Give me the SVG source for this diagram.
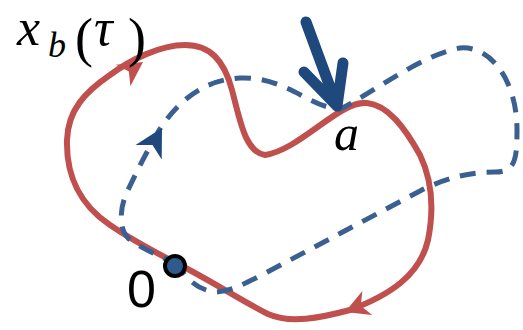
<svg xmlns="http://www.w3.org/2000/svg" width="523" height="330" viewBox="0 0 523 330">
<style>
.red{fill:none;stroke:#c0504d;stroke-width:6;stroke-linejoin:round}
.blue{fill:none;stroke:#3a6091;stroke-width:5;stroke-dasharray:16 11}
.big{fill:none;stroke:#1f497d;stroke-width:11;stroke-linecap:round;stroke-linejoin:round}
.math{font-family:"Liberation Serif","DejaVu Serif",serif;font-style:italic;fill:#000}
.up{font-family:"Liberation Serif","DejaVu Serif",serif;fill:#000}
.num{font-family:"Liberation Sans",Arial,sans-serif;fill:#000}
</style>
<defs>
<path id="head" d="M0,0 L-24,-13 L-17,0 L-24,13 Z"/>
</defs>
<g id="connectors">
<path id="red-loop" class="red" d="M178,264 C210,280 240,300 268,314 C290,324 320,318 350,310 C390,295 420,275 428,240 C434,210 432,180 420,155 C405,128 388,105 367,103 C340,100 300,150 265,155 C245,152 240,120 232,90 C224,60 210,45 185,45 C160,45 130,60 110,75 C85,92 68,110 67,140 C66,175 80,205 110,225 C135,242 155,252 178,264 Z"/>
<path id="blue-loop" class="blue" d="M178,265 C160,256 140,248 128,238 C118,228 120,205 128,190 C135,175 145,155 158,132 C175,105 200,80 240,78 C285,76 310,108 340,109 C370,95 420,55 460,48 C490,45 517,80 517,130 C517,160 515,172 495,172 C470,172 445,178 420,191 L260,276 C240,286 228,292 215,292 C200,290 188,282 178,265"/>
<use href="#head" fill="#c0504d" transform="translate(143,62) rotate(-34)"/>
<use href="#head" fill="#c0504d" transform="translate(345,312) rotate(158)"/>
<use href="#head" fill="#1f497d" transform="translate(162,128) rotate(-61) scale(1.15)"/>
</g>
<g id="pointer">
<path class="big" d="M306,22 L337,106 M304,72 L337,106 L343,63"/>
</g>
<g id="origin">
<circle cx="175" cy="266" r="10" fill="#2e5a8c" stroke="#000" stroke-width="4"/>
<text class="num" x="127" y="307" font-size="52">0</text>
</g>
<g id="labels">
<text class="math" x="17" y="45" font-size="52">x</text>
<text class="math" x="48" y="57" font-size="36">b</text>
<text class="up" x="75" y="56" font-size="54">(</text>
<text class="math" x="94" y="45" font-size="52">τ</text>
<text class="up" x="128" y="56" font-size="54">)</text>
<text class="math" x="334" y="150" font-size="50">a</text>
</g>
</svg>
